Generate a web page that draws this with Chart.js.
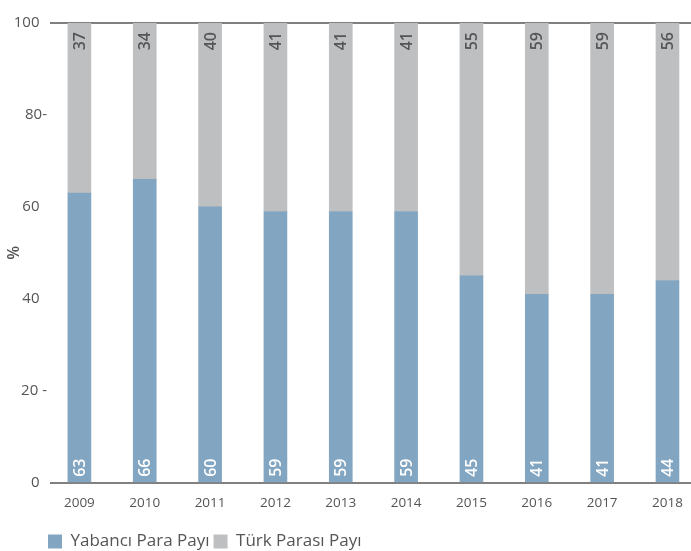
<!DOCTYPE html>
<html>
<head>
<meta charset="utf-8">
<script src="https://cdn.jsdelivr.net/npm/chart.js@4/dist/chart.umd.min.js"></script>
<style>
html,body{margin:0;padding:0;background:#fff;}
#wrap{width:691px;height:551px;position:relative;}
</style>
</head>
<body>
<div id="wrap"><canvas id="c" width="691" height="551"></canvas></div>
<script>
const years = [2009, 2010, 2011, 2012, 2013, 2014, 2015, 2016, 2017, 2018];
const yabanciPara = [63, 66, 60, 59, 59, 59, 45, 41, 41, 44];
const turkParasi = [37, 34, 40, 41, 41, 41, 55, 59, 59, 56];
const yTickLabels = {0: "0", 20: "20 -", 40: "40", 60: "60", 80: "80-", 100: "100"};
const seriesNames = ["Yabancı Para Payı", "Türk Parası Payı"];
const yAxisTitle = "%";

const BLUE = "#82a6c2";
const GRAY = "#bebfc1";
const TEXT = "#555555";
const FONT = "'Open Sans', 'Noto Sans', sans-serif";

const labelPlugin = {
  id: "barLabels",
  afterLayout(chart) {
    const lg = chart.legend;
    if (lg) { lg.left = 44; lg.top = 529; lg.bottom = 551; lg.right = 691; }
  },
  afterDatasetsDraw(chart) {
    const ctx = chart.ctx;
    ctx.save();
    ctx.font = "600 16px " + FONT;
    chart.data.datasets.forEach((ds, di) => {
      const meta = chart.getDatasetMeta(di);
      meta.data.forEach((bar, i) => {
        const v = ds.data[i].y;
        ctx.save();
        ctx.translate(bar.x, di === 0 ? bar.base - 5 : bar.y + 9);
        ctx.rotate(-Math.PI / 2);
        ctx.textBaseline = "middle";
        if (di === 0) {
          ctx.fillStyle = "#ffffff";
          ctx.textAlign = "left";
        } else {
          ctx.fillStyle = TEXT;
          ctx.textAlign = "right";
        }
        ctx.fillText(String(v), 0, 1);
        ctx.restore();
      });
    });
    ctx.restore();
  }
};

new Chart(document.getElementById("c"), {
  type: "bar",
  data: {
    datasets: [
      { label: seriesNames[0], data: years.map((y, i) => ({x: y, y: yabanciPara[i]})), backgroundColor: BLUE, barThickness: 23, borderWidth: 0 },
      { label: seriesNames[1], data: years.map((y, i) => ({x: y, y: turkParasi[i]})), backgroundColor: GRAY, barThickness: 23, borderWidth: 0 }
    ]
  },
  options: {
    responsive: false,
    animation: false,
    devicePixelRatio: 1,
    layout: { padding: { top: 23, right: 0, left: 0, bottom: 5 } },
    plugins: {
      legend: {
        position: "bottom",
        align: "start",
        labels: {
          boxWidth: 14, boxHeight: 14, padding: 4,
          color: TEXT,
          font: { family: FONT, size: 17 }
        }
      },
      tooltip: { enabled: false }
    },
    scales: {
      x: {
        type: "linear",
        stacked: true,
        offset: false,
        min: 2008.55,
        max: 2018.36,
        afterBuildTicks(scale) { scale.ticks = years.map(v => ({value: v})); },
        ticks: {
          callback: v => String(v),
          color: TEXT,
          font: { family: FONT, size: 13.5 },
          maxRotation: 0,
          padding: 4
        },
        grid: { display: false },
        border: { display: false }
      },
      y: {
        stacked: true,
        min: 0, max: 100,
        afterFit(scale) { scale.width = 50; },
        ticks: {
          stepSize: 20,
          callback: v => { const t = yTickLabels[v]; return /-$/.test(t) ? t : t + "\u2002"; },
          color: TEXT,
          font: { family: FONT, size: 15 },
          padding: 3
        },
        grid: {
          drawTicks: false,
          lineWidth: 2,
          color: c => (c.tick && (c.tick.value === 0 || c.tick.value === 100)) ? "#808080" : "rgba(0,0,0,0)"
        },
        border: { display: false },
        title: {
          display: true, text: yAxisTitle, color: TEXT,
          font: { family: FONT, size: 16, weight: "600" },
          padding: { top: 5, bottom: 0 }
        }
      }
    }
  },
  plugins: [labelPlugin]
});
</script>
</body>
</html>
